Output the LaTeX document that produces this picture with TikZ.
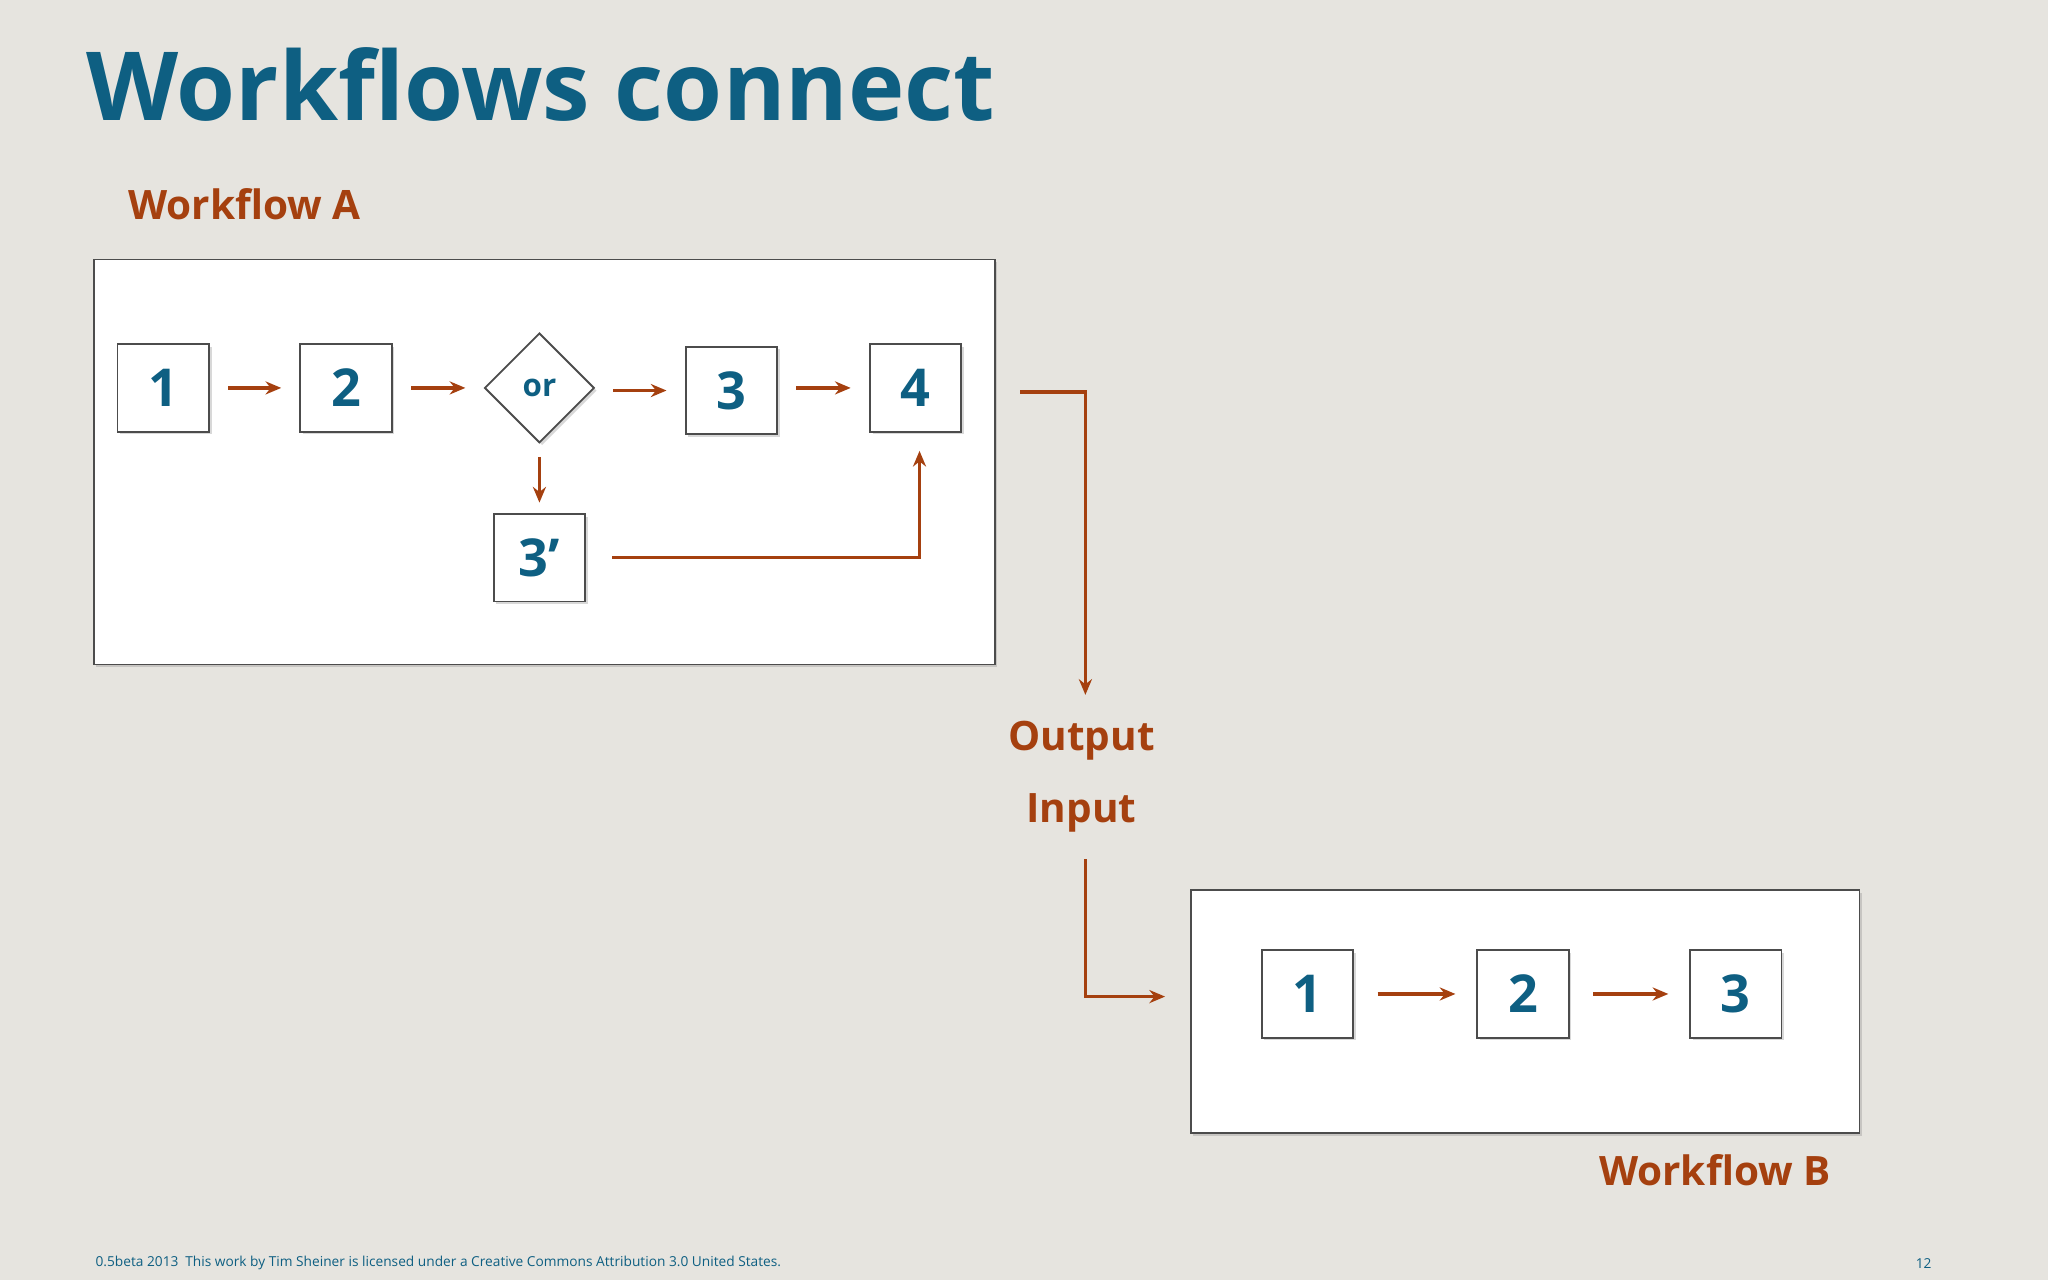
\documentclass[tikz,border=0pt]{standalone}
\usepackage{fontspec}
\setmainfont{Open Sans}
\usetikzlibrary{arrows.meta,shadows,shapes.geometric}
\definecolor{ttl}{HTML}{0E5F82}
\definecolor{org}{HTML}{A5400F}
\definecolor{bg}{HTML}{E6E4DF}
\begin{document}
\begin{tikzpicture}[x=1pt,y=-1pt,
  frame/.style={draw=black!70,line width=1.4pt,fill=white,drop shadow={opacity=0.3,shadow xshift=2pt,shadow yshift=-2pt}},
  sbox/.style={draw=black!70,line width=1.4pt,fill=white,minimum width=70pt,minimum height=67pt,inner sep=0pt,
     font=\fontsize{40}{40}\selectfont\bfseries,text=ttl,drop shadow={opacity=0.3,shadow xshift=2pt,shadow yshift=-2pt}},
  conn/.style={draw=org,line width=2.6pt,-{Stealth[length=12pt,width=10pt]}},
  lbl/.style={text=org,font=\fontsize{31}{31}\selectfont\bfseries,inner sep=0pt}]
\fill[bg] (0,0) rectangle (1568,980);
\useasboundingbox (0,0) rectangle (1568,980);
\node[anchor=base west,text=ttl,font=\fontsize{73}{73}\selectfont\bfseries,inner sep=0pt] (title) at (66,92) {Workflows connect};
\node[lbl,anchor=west] (wa) at (98,156) {Workflow A};
\node[frame,minimum width=690pt,minimum height=310pt,anchor=north west] (A) at (71,198) {};
\node[frame,minimum width=512pt,minimum height=186pt,anchor=north west] (B) at (911,681) {};
\node[sbox] (a1) at (125,297) {1};
\node[sbox] (a2) at (265,297) {2};
\node[diamond,draw=black!70,line width=1.4pt,fill=white,minimum width=84pt,minimum height=84pt,inner sep=0pt,
  text=ttl,font=\fontsize{24}{24}\selectfont\bfseries,drop shadow={opacity=0.3,shadow xshift=2pt,shadow yshift=-2pt}] (or) at (413,297) {or};
\node[sbox] (a3) at (560,299) {3};
\node[sbox] (a4) at (701,297) {4};
\node[sbox] (a3p) at (413,427) {3’};
\draw[conn] ([xshift=14pt]a1.east) -- ([xshift=-14pt]a2.west);
\draw[conn] ([xshift=14pt]a2.east) -- ([xshift=-14pt]or.west);
\draw[conn] ([xshift=14pt]or.east |- a3) -- ([xshift=-14pt]a3.west);
\draw[conn] ([xshift=14pt]a3.east |- a4) -- ([xshift=-14pt]a4.west);
\draw[conn] ([yshift=-10pt]or.south) -- ([yshift=8pt]a3p.north);
\coordinate (c1) at (704,427);
\draw[conn] ([xshift=20pt]a3p.east) -- (c1) -- ([yshift=-14pt]a4.south -| c1);
\node[lbl] (out) at (828,567) {Output};
\node[lbl] (in) at (828,622) {Input};
\coordinate (o1) at (781,300);
\coordinate (o2) at (831,300);
\coordinate (o3) at (831,532);
\draw[conn] (o1) -- (o2) -- (o3);
\coordinate (i1) at (831,658);
\coordinate (i2) at (831,763);
\coordinate (i3) at (892,763);
\draw[conn] (i1) -- (i2) -- (i3);
\node[sbox] (b1) at (1001,761) {1};
\node[sbox] (b2) at (1166,761) {2};
\node[sbox] (b3) at (1329,761) {3};
\draw[conn] ([xshift=18pt]b1.east) -- ([xshift=-16pt]b2.west);
\draw[conn] ([xshift=18pt]b2.east) -- ([xshift=-16pt]b3.west);
\node[lbl] (wb) at (1313,896) {Workflow B};
\node[anchor=west,text=ttl,font=\fontsize{10.5}{10.5}\selectfont,inner sep=0pt] (foot) at (73,967) {0.5beta 2013\enspace This work by Tim Sheiner is licensed under a Creative Commons Attribution 3.0 United States.};
\node[anchor=east,text=ttl,font=\fontsize{10.5}{10.5}\selectfont,inner sep=0pt] (pg) at (1479,967) {12};
\end{tikzpicture}
\end{document}
